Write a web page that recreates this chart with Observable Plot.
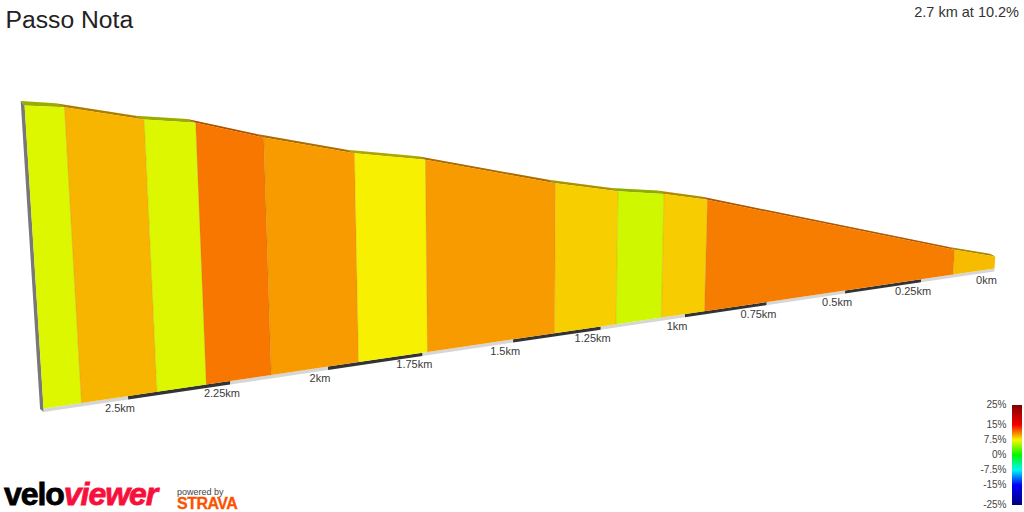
<!DOCTYPE html>
<html>
<head>
<meta charset="utf-8">
<script src="https://cdn.jsdelivr.net/npm/d3@7"></script>
<script src="https://cdn.jsdelivr.net/npm/@observablehq/plot@0.6"></script>
<style>
  html, body { margin: 0; padding: 0; background: #fff; }
  #stage { position: relative; width: 1024px; height: 512px; overflow: hidden; font-family: "Liberation Sans", Arial, sans-serif; }
  #stage svg { position: absolute; background: transparent; }
  .t { position: absolute; white-space: nowrap; line-height: 1; }
</style>
</head>
<body>
<div id="stage">
  <div class="t" style="left:5.5px;top:8px;font-size:24.7px;color:#222">Passo Nota</div>
  <div class="t" style="right:5px;top:5px;font-size:14.5px;color:#333">2.7 km at 10.2%</div>
  <div class="t" style="left:4px;top:477.5px;font-size:32px;font-weight:bold;letter-spacing:-1.05px;color:#000;-webkit-text-stroke:.8px currentColor">velo<span style="color:#f8103c;font-style:italic">viewer</span></div>
  <div class="t" style="left:177px;top:488px;font-size:9px;color:#444">powered by</div>
  <div class="t" style="left:177px;top:496px;font-size:16px;font-weight:bold;letter-spacing:-.5px;color:#fc5200;-webkit-text-stroke:.3px currentColor">STRAVA</div>
</div>
<script>
// Segment boundaries, left to right (km from the finish)
const segKm = [2.7, 2.611, 2.43, 2.309, 2.146, 1.92, 1.736, 1.383, 1.205, 1.071, 0.941, 0.142, 0];
// Elevation gained at each boundary (metres above km 0)
const elevations = [275, 270.2, 251.9, 244.1, 223.7, 199.1, 185, 146, 129.8, 121, 108.8, 14.9, 0];
// Gradient (%) shown by the colour of each segment
const grades = [6.7, 9.5, 6.7, 11.4, 10.3, 7.7, 10.3, 8.7, 6.3, 8.8, 11.2, 9.3];
// Distance ticks along the base
const tickKm = [2.5, 2.25, 2, 1.75, 1.5, 1.25, 1, 0.75, 0.5, 0.25, 0];
// Alternating base strip
const baseBreaks = [2.7, 2.5, 2.25, 2, 1.75, 1.5, 1.25, 1, 0.75, 0.5, 0.25, 0];
const baseDark = [false, true, false, true, false, true, false, true, false, true, false];
// Gradient legend
const legendTicks = [25, 15, 7.5, 0, -7.5, -15, -25];
const gradeStops = [-25, -15, -7.5, 0, 7.5, 15, 25];
const gradeColors = ["#00007f", "#0000f7", "#00f7f7", "#00f700", "#f7f700", "#f70000", "#7f0000"];
const legendSteps = d3.range(-25, 25, 0.5);

// Perspective of the 3D wall
const baseElev = 14.2, totalKm = 2.7, g = -0.18, e = -1.1164e-4;
const far = [994, 268], near = [43, 408], vanish = [505, 7800];
const w1 = 1 + g;
const Ax = near[0] * w1 - far[0], Ay = near[1] * w1 - far[1];
function project(km, elev) {
  const t = km / totalKm, w0 = 1 + g * t, h = elev + baseElev;
  const bx = (far[0] + Ax * t) / w0, by = (far[1] + Ay * t) / w0;
  const l = e * h / (w0 + e * h);
  return [bx + l * (vanish[0] - bx), by + l * (vanish[1] - by)];
}
const wall = d3.geoTransform({
  point(km, elev) { const p = project(km, elev); this.stream.point(p[0], p[1]); }
});

const floor = -baseElev;
const depthKm = 0.02, depthElev = 4.4, capKm = 0.008, stripDrop = 3.5;
const poly = (coords, grade) => ({
  type: "Feature", properties: {grade},
  geometry: {type: "Polygon", coordinates: [[...coords, coords[0]]]}
});
const faces = grades.map((gr, i) => poly([
  [segKm[i], floor], [segKm[i], elevations[i]],
  [segKm[i + 1], elevations[i + 1]], [segKm[i + 1], floor]
], gr));
const tops = grades.map((gr, i) => poly([
  [segKm[i], elevations[i]], [segKm[i + 1], elevations[i + 1]],
  [Math.min(segKm[i + 1] + depthKm, totalKm + capKm), elevations[i + 1] + depthElev],
  [Math.min(segKm[i] + depthKm, totalKm + capKm), elevations[i] + depthElev]
], gr));
const seams = segKm.slice(1, -1).map((k, i) => ({
  type: "Feature", properties: {},
  geometry: {type: "LineString", coordinates: [[k, floor], [k, elevations[i + 1]]]}
}));
const cap = [poly([
  [totalKm, floor - stripDrop], [totalKm, elevations[0]],
  [totalKm + capKm, elevations[0] + depthElev], [totalKm + capKm, floor]
])];
const strips = baseDark.map((dark, i) => ({
  ...poly([
    [baseBreaks[i], floor], [baseBreaks[i + 1], floor],
    [baseBreaks[i + 1], floor - stripDrop], [baseBreaks[i], floor - stripDrop]
  ]), dark
}));
const colorScale = {type: "linear", domain: gradeStops, range: gradeColors, clamp: true};
const font = {fontFamily: "'Liberation Sans', Arial, sans-serif", background: "transparent"};

const main = Plot.plot({
  width: 1024, height: 512, margin: 0,
  projection: wall,
  color: colorScale,
  style: font,
  marks: [
    Plot.geo(tops, {fill: d => d.properties.grade}),
    Plot.geo(tops, {fill: "#000", fillOpacity: 0.3}),
    Plot.geo(cap, {fill: "#787878"}),
    Plot.geo(strips.filter(d => !d.dark), {fill: "#d6d6d6"}),
    Plot.geo(strips.filter(d => d.dark), {fill: "#333333"}),
    Plot.geo(faces, {fill: d => d.properties.grade}),
    Plot.geo(seams, {stroke: "#805000", strokeOpacity: 0.16, strokeWidth: 1}),
    Plot.text(tickKm, {
      x: d => d, y: floor, text: d => `${d}km`,
      dx: -8, dy: 12, fontSize: 11, fill: "#3a3a3a", textAnchor: "middle"
    })
  ]
});
main.style.left = "0px";
main.style.top = "0px";

const legend = Plot.plot({
  width: 100, height: 120,
  marginLeft: 88, marginRight: 2, marginTop: 10, marginBottom: 10,
  x: {domain: [0, 1], axis: null},
  y: {domain: [-25, 25]},
  color: colorScale,
  style: font,
  marks: [
    Plot.rect(legendSteps, {x1: 0, x2: 1, y1: d => d, y2: d => d + 0.5, fill: d => d + 0.25}),
    Plot.axisY(legendTicks, {
      anchor: "left", tickSize: 0, tickPadding: 6, fontSize: 10, dy: -1,
      color: "#444", label: null, tickFormat: d => `${d}%`
    })
  ]
});
legend.style.left = "924px";
legend.style.top = "395px";

const stage = document.getElementById("stage");
stage.appendChild(main);
stage.appendChild(legend);
</script>
</body>
</html>
